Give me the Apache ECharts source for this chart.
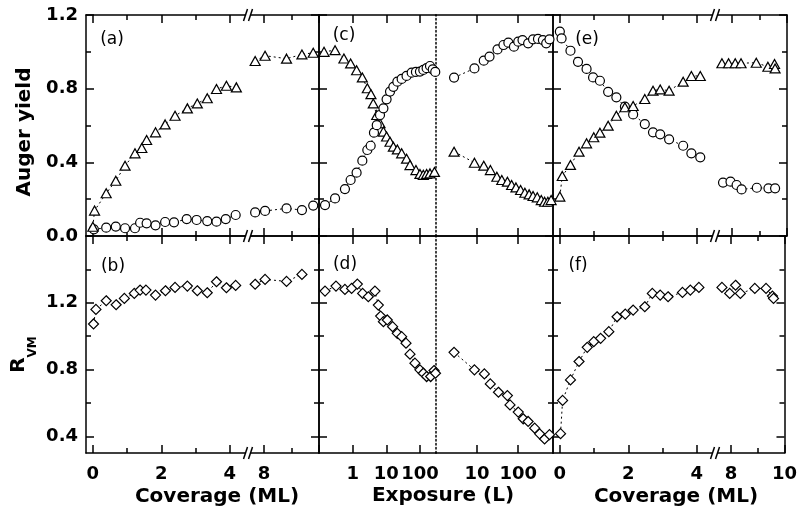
<!DOCTYPE html>
<html>
<head>
<meta charset="utf-8">
<script src="https://cdn.jsdelivr.net/npm/echarts@6/dist/echarts.min.js"></script>
<style>
  html, body { margin: 0; background: #fff; }
  #chart { width: 800px; height: 516px; }
</style>
</head>
<body>
<div id="chart"></div>
<script>
// ---- data ----
// (a) Auger yield vs coverage (ML), left / right of the axis break
var aTriLo = [[0.0, 0.05], [0.05, 0.138], [0.39, 0.232], [0.67, 0.30], [0.94, 0.382], [1.23, 0.449], [1.43, 0.478], [1.57, 0.521], [1.83, 0.563], [2.11, 0.606], [2.40, 0.653], [2.76, 0.693], [3.05, 0.72], [3.34, 0.748], [3.61, 0.798], [3.90, 0.816], [4.19, 0.807]];
var aTriHi = [[7.68, 0.95], [8.04, 0.979], [8.82, 0.963], [9.38, 0.986], [9.79, 0.995]];
var aCirLo = [[0.03, 0.036], [0.39, 0.045], [0.67, 0.051], [0.94, 0.042], [1.23, 0.042], [1.38, 0.072], [1.57, 0.069], [1.83, 0.058], [2.11, 0.076], [2.37, 0.074], [2.74, 0.092], [3.03, 0.087], [3.34, 0.081], [3.61, 0.078], [3.88, 0.092], [4.17, 0.114]];
var aCirHi = [[7.68, 0.128], [8.04, 0.136], [8.82, 0.150], [9.38, 0.141], [9.79, 0.165]];
// (b) R_VM vs coverage
var bDiaLo = [[0.02, 1.073], [0.09, 1.16], [0.39, 1.212], [0.68, 1.188], [0.92, 1.226], [1.21, 1.256], [1.38, 1.276], [1.55, 1.276], [1.83, 1.246], [2.12, 1.272], [2.40, 1.292], [2.76, 1.30], [3.05, 1.272], [3.34, 1.26], [3.61, 1.326], [3.90, 1.29], [4.17, 1.304]];
var bDiaHi = [[7.68, 1.311], [8.04, 1.34], [8.82, 1.328], [9.38, 1.37]];
// (c) Auger yield vs exposure (L), before / after the dotted line
var cTriLo = [[0.141, 1.0], [0.30, 1.009], [0.55, 0.964], [0.87, 0.937], [1.31, 0.90], [1.94, 0.861], [2.73, 0.802], [3.5, 0.77], [4.1, 0.72], [5.2, 0.657], [6.5, 0.612], [8.2, 0.567], [10.2, 0.54], [12.9, 0.512], [16.2, 0.485], [21.3, 0.47], [28.6, 0.449], [40, 0.42], [50.6, 0.385], [76, 0.358], [100, 0.337], [126, 0.332], [158, 0.337], [199, 0.34], [270, 0.348]];
var cCirLo = [[0.151, 0.168], [0.30, 0.204], [0.59, 0.255], [0.87, 0.304], [1.31, 0.344], [1.94, 0.409], [2.73, 0.467], [3.43, 0.49], [4.3, 0.561], [5.2, 0.602], [6.5, 0.657], [8.2, 0.693], [10.2, 0.742], [12.9, 0.784], [16.2, 0.81], [21.3, 0.838], [28.6, 0.853], [40, 0.869], [56.8, 0.887], [76, 0.891], [100, 0.893], [126, 0.902], [158, 0.911], [199, 0.923], [240, 0.905], [285, 0.891]];
var cTriHi = [[2.75, 0.458], [8.6, 0.398], [14.5, 0.382], [21, 0.358], [30.2, 0.322], [39.8, 0.304], [54.5, 0.295], [69, 0.277], [88, 0.264], [114, 0.25], [145, 0.235], [184, 0.226], [229, 0.217], [290, 0.21], [363, 0.195], [437, 0.186], [525, 0.186], [630, 0.195]];
var cCirHi = [[2.75, 0.86], [8.6, 0.91], [14.5, 0.952], [20, 0.974], [31.3, 1.013], [43.7, 1.037], [57.5, 1.05], [78.6, 1.028], [100, 1.055], [127, 1.064], [174, 1.046], [229, 1.068], [302, 1.07], [398, 1.064], [479, 1.046], [575, 1.068]];
// (d) R_VM vs exposure
var dDiaLo = [[0.151, 1.27], [0.32, 1.30], [0.59, 1.28], [0.93, 1.286], [1.38, 1.312], [1.98, 1.256], [2.92, 1.236], [4.6, 1.27], [5.8, 1.186], [6.8, 1.12], [8.2, 1.087], [10.7, 1.097], [15.4, 1.057], [21.2, 1.017], [28.6, 0.997], [38.5, 0.958], [50.6, 0.892], [71, 0.838], [100, 0.798], [126, 0.778], [158, 0.758], [208, 0.758], [262, 0.794], [290, 0.778]];
var dDiaHi = [[2.75, 0.903], [8.6, 0.798], [15, 0.774], [20.9, 0.714], [33, 0.664], [54.5, 0.644], [63, 0.588], [100, 0.545], [132, 0.505], [174, 0.489], [251, 0.449], [331, 0.415], [437, 0.384], [575, 0.41]];
// (e) Auger yield vs coverage
var eCirLo = [[0, 1.11], [0.05, 1.073], [0.31, 1.006], [0.53, 0.946], [0.78, 0.907], [0.97, 0.861], [1.17, 0.843], [1.41, 0.783], [1.65, 0.753], [1.90, 0.702], [2.14, 0.66], [2.48, 0.608], [2.72, 0.563], [2.93, 0.552], [3.19, 0.525], [3.60, 0.49], [3.84, 0.449], [4.10, 0.427]];
var eCirHi = [[7.69, 0.29], [7.96, 0.295], [8.18, 0.277], [8.36, 0.253], [8.91, 0.262], [9.33, 0.259], [9.57, 0.259]];
var eTriLo = [[0, 0.214], [0.07, 0.326], [0.31, 0.386], [0.56, 0.458], [0.78, 0.503], [0.99, 0.536], [1.17, 0.561], [1.41, 0.599], [1.65, 0.653], [1.90, 0.699], [2.14, 0.706], [2.48, 0.744], [2.72, 0.789], [2.93, 0.796], [3.19, 0.789], [3.60, 0.838], [3.84, 0.869], [4.10, 0.869]];
var eTriHi = [[7.65, 0.938], [7.89, 0.938], [8.13, 0.938], [8.34, 0.938], [8.89, 0.941], [9.31, 0.919], [9.55, 0.934], [9.57, 0.91]];
// (f) R_VM vs coverage
var fDiaLo = [[0.02, 0.416], [0.08, 0.615], [0.31, 0.738], [0.56, 0.848], [0.80, 0.933], [0.99, 0.967], [1.19, 0.987], [1.43, 1.027], [1.67, 1.116], [1.91, 1.132], [2.14, 1.156], [2.48, 1.176], [2.70, 1.256], [2.93, 1.246], [3.16, 1.236], [3.58, 1.262], [3.81, 1.276], [4.06, 1.292]];
var fDiaHi = [[7.66, 1.292], [7.95, 1.256], [8.17, 1.305], [8.35, 1.256], [8.89, 1.286], [9.31, 1.286], [9.55, 1.24], [9.59, 1.226]];

// ---- tick values ----
var yTopMajor = [0, 0.4, 0.8, 1.2];
var yTopMinor = [0.2, 0.6, 1.0];
var yBotMajor = [0.4, 0.8, 1.2];
var yBotMinor = [0.6, 1.0, 1.4];
var covLoMajor = [0, 2, 4];
var covLoMinor = [1, 3];
var covHiMajor = [8, 10];
var covHiMinor = [9];
var expLoTicks = [1, 10, 100];
var expHiTicks = [10, 100];

var FONT = 'DejaVu Sans';

// column segments (px layout), same for both rows
var segs = [
  { left: 86, width: 162, type: 'value', min: -0.2, max: 4.53, major: covLoMajor, minor: covLoMinor, labels: covLoMajor, yLeft: 'solid' },
  { left: 248, width: 71, type: 'value', min: 7.42, max: 10, major: covHiMajor, minor: covHiMinor, labels: [8], yRight: 'solid' },
  { left: 319, width: 117, type: 'log', min: 0.1, max: 300, major: expLoTicks, minor: [], labels: expLoTicks, yLeft: 'solid' },
  { left: 436, width: 117, type: 'log', min: 1, max: 700, major: expHiTicks, minor: [], labels: expHiTicks, yLeft: 'dotted', yRight: 'solid' },
  { left: 553, width: 162, type: 'value', min: -0.2, max: 4.53, major: covLoMajor, minor: covLoMinor, labels: covLoMajor, yLeft: 'solid' },
  { left: 715, width: 72, type: 'value', min: 7.4, max: 10, major: covHiMajor, minor: covHiMinor, labels: covHiMajor, yRight: 'solid' }
];
var rows = [
  { top: 15, height: 221, min: 0, max: 1.2, major: yTopMajor, minor: yTopMinor, xLabels: false },
  { top: 236, height: 217, min: 0.3, max: 1.6, major: yBotMajor, minor: yBotMinor, xLabels: true }
];

function makeAxis(base, pos, ticks, len, showLine, lineType, labels, isY) {
  var ax = Object.assign({}, base, {
    position: pos,
    splitLine: { show: false },
    axisLine: { show: showLine, onZero: false, lineStyle: { color: '#000', width: 1.5, type: lineType || 'solid' } },
    axisTick: { show: ticks.length > 0, inside: true, length: len, customValues: ticks, lineStyle: { color: '#000', width: 1.5 } },
    axisLabel: { show: false }
  });
  if (labels) {
    ax.axisLabel = {
      show: true,
      customValues: labels,
      color: '#000',
      fontFamily: FONT,
      fontWeight: 'bold',
      fontSize: 18,
      margin: isY ? 8 : 12,
      formatter: isY ? function (v) { return (+v).toFixed(1); } : function (v) { return String(+v); }
    };
  }
  return ax;
}

var option = {
  animation: false,
  backgroundColor: '#fff',
  grid: [],
  xAxis: [],
  yAxis: [],
  series: [],
  graphic: []
};
var xIndex = [];
var yIndex = [];

rows.forEach(function (row, r) {
  segs.forEach(function (seg, s) {
    var g = option.grid.length;
    option.grid.push({ left: seg.left, top: row.top, width: seg.width, height: row.height });
    var xBase = { gridIndex: g, type: seg.type, min: seg.min, max: seg.max };
    if (seg.type === 'log') xBase.logBase = 10;
    // bottom axis carries the series
    xIndex[g] = option.xAxis.length;
    option.xAxis.push(makeAxis(xBase, 'bottom', seg.major, 8, true, 'solid', row.xLabels ? seg.labels : null, false));
    if (seg.minor.length) option.xAxis.push(makeAxis(xBase, 'bottom', seg.minor, 5, false));
    option.xAxis.push(makeAxis(xBase, 'top', seg.major, 8, true, 'solid'));
    if (seg.minor.length) option.xAxis.push(makeAxis(xBase, 'top', seg.minor, 5, false));

    var yBase = { gridIndex: g, type: 'value', min: row.min, max: row.max };
    yIndex[g] = option.yAxis.length;
    if (seg.yLeft === 'solid') {
      option.yAxis.push(makeAxis(yBase, 'left', row.major, 8, true, 'solid', s === 0 ? row.major : null, true));
      option.yAxis.push(makeAxis(yBase, 'left', row.minor, 5, false));
    } else if (seg.yLeft === 'dotted') {
      // the dotted separator between the two exposure runs
      option.yAxis.push(makeAxis(yBase, 'left', [], 0, true, [1.5, 2.5]));
    } else {
      option.yAxis.push(Object.assign({}, yBase, { show: false }));
    }
    if (seg.yRight === 'solid') {
      option.yAxis.push(makeAxis(yBase, 'right', row.major, 8, true, 'solid'));
      option.yAxis.push(makeAxis(yBase, 'right', row.minor, 5, false));
    }
  });
});

var SYM = {
  tri: { symbol: 'triangle', size: [10, 9] },
  cir: { symbol: 'circle', size: 9 },
  dia: { symbol: 'diamond', size: [10, 10] }
};

function addSeries(data, g, kind) {
  option.series.push({
    type: 'line',
    xAxisIndex: xIndex[g],
    yAxisIndex: yIndex[g],
    data: data,
    symbol: SYM[kind].symbol,
    symbolSize: SYM[kind].size,
    showSymbol: true,
    showAllSymbol: true,
    clip: false,
    lineStyle: { color: '#000', width: 1, type: [2, 3] },
    itemStyle: { color: '#fff', borderColor: '#000', borderWidth: 1.2 },
    z: 3
  });
}

addSeries(aCirLo, 0, 'cir');
addSeries(aTriLo, 0, 'tri');
addSeries(aCirHi, 1, 'cir');
addSeries(aTriHi, 1, 'tri');
addSeries(cTriLo, 2, 'tri');
addSeries(cCirLo, 2, 'cir');
addSeries(cTriHi, 3, 'tri');
addSeries(cCirHi, 3, 'cir');
addSeries(eCirLo, 4, 'cir');
addSeries(eTriLo, 4, 'tri');
addSeries(eCirHi, 5, 'cir');
addSeries(eTriHi, 5, 'tri');
addSeries(bDiaLo, 6, 'dia');
addSeries(bDiaHi, 7, 'dia');
addSeries(dDiaLo, 8, 'dia');
addSeries(dDiaHi, 9, 'dia');
addSeries(fDiaLo, 10, 'dia');
addSeries(fDiaHi, 11, 'dia');

// ---- texts ----
function txt(str, x, y, size, bold, rot) {
  return {
    type: 'text', x: x, y: y, rotation: rot || 0, z: 100,
    style: {
      text: str, fill: '#000', fontFamily: FONT, fontSize: size,
      fontWeight: bold ? 'bold' : 'normal', align: 'center', verticalAlign: 'middle'
    }
  };
}
option.graphic.push(txt('Auger yield', 25, 132, 20, true, Math.PI / 2));
option.graphic.push(txt('R', 19, 365, 20, true, Math.PI / 2));
option.graphic.push(txt('VM', 33, 347, 12, true, Math.PI / 2));
option.graphic.push(txt('Coverage (ML)', 217, 497, 20, true));
option.graphic.push(txt('Exposure (L)', 443, 496, 20, true));
option.graphic.push(txt('Coverage (ML)', 676, 497, 20, true));
option.graphic.push(txt('(a)', 112, 40, 17));
option.graphic.push(txt('(b)', 113, 267, 17));
option.graphic.push(txt('(c)', 344, 36, 17));
option.graphic.push(txt('(d)', 345, 265, 17));
option.graphic.push(txt('(e)', 587, 40, 17));
option.graphic.push(txt('(f)', 578, 266, 17));

// ---- axis break marks "//" ----
[248, 715].forEach(function (bx) {
  [15, 236, 453].forEach(function (by) {
    option.graphic.push({
      type: 'rect', z: 100,
      shape: { x: bx - 3, y: by - 2.5, width: 6, height: 5 },
      style: { fill: '#fff' }
    });
    [-2.5, 2.5].forEach(function (d) {
      option.graphic.push({
        type: 'line', z: 101,
        shape: { x1: bx + d - 2, y1: by + 6, x2: bx + d + 2, y2: by - 6 },
        style: { stroke: '#000', lineWidth: 1.5 }
      });
    });
  });
});

var chart = echarts.init(document.getElementById('chart'), null, { renderer: 'canvas' });
chart.setOption(option);
</script>
</body>
</html>
